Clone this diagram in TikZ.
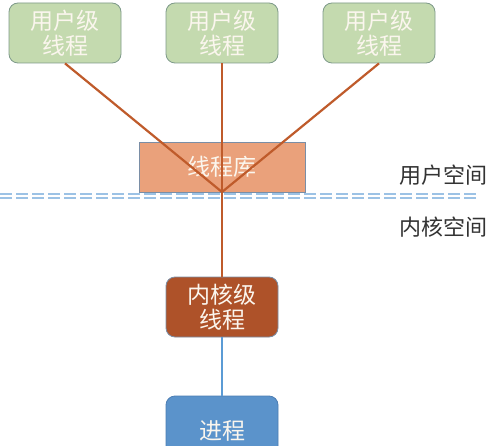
\documentclass[tikz,border=0pt]{standalone}
\usepackage{fontspec}
\newfontfamily\cjk{Noto Sans CJK SC}
\definecolor{gfill}{HTML}{C4DAAF}
\definecolor{gdraw}{HTML}{7E9A8A}
\definecolor{lfill}{HTML}{EAA17B}
\definecolor{bdraw}{HTML}{7A8EA6}
\definecolor{kfill}{HTML}{AE5229}
\definecolor{pfill}{HTML}{5B93CB}
\definecolor{pdraw}{HTML}{4C7DB3}
\definecolor{brline}{HTML}{BF5B2B}
\definecolor{blline}{HTML}{5B9BD5}
\definecolor{dashc}{HTML}{9CC2E5}
\definecolor{txt}{HTML}{FBF6EE}
\tikzset{
  x=1pt, y=-1pt,
  boxbase/.style={rectangle, minimum width=112pt, inner sep=0pt, text=txt,
    font=\cjk\fontsize{23}{25}\selectfont, align=center, line width=0.8pt},
  userbox/.style={boxbase, rounded corners=9pt, minimum height=60pt, fill=gfill, draw=gdraw},
  libbox/.style={boxbase, minimum width=166pt, minimum height=50pt, fill=lfill, draw=bdraw},
  kernbox/.style={boxbase, rounded corners=9pt, minimum height=60pt, fill=kfill, draw=bdraw},
  procbox/.style={boxbase, rounded corners=9pt, minimum height=70pt, fill=pfill, draw=pdraw},
  conn/.style={draw=brline, line width=2.2pt},
  bconn/.style={draw=blline, line width=2.2pt},
  sep/.style={draw=dashc, line width=2pt, dash pattern=on 12pt off 4pt},
  side/.style={font=\cjk\fontsize{22}{24}\selectfont, text=black!80, inner sep=0pt}
}
\begin{document}
\begin{tikzpicture}
\useasboundingbox (0,0) rectangle (497,446);
\clip (0,0) rectangle (497,446);
\fill[white] (0,0) rectangle (497,446);
\node[userbox] (u1) at (65,33) {用户级\\线程};
\node[userbox] (u2) at (222,33) {用户级\\线程};
\node[userbox] (u3) at (379,33) {用户级\\线程};
\node[libbox] (lib) at (222,167) {线程库};
\coordinate (conv) at (222,192);
\coordinate (sl) at (0,194.5);
\coordinate (sr) at (476,194.5);
\coordinate (sl2) at (0,198.5);
\coordinate (sr2) at (476,198.5);
\draw[sep] (sl) -- (sr);
\draw[sep] (sl2) -- (sr2);
\node[kernbox] (k) at (222,307) {内核级\\线程};
\node[procbox] (p) at (222,431) {进程};
\draw[conn] (u1.south) -- (conv);
\draw[conn] (u2.south) -- (conv);
\draw[conn] (u3.south) -- (conv);
\draw[conn] (conv) -- (k.north);
\draw[bconn] (k.south) -- (p.north);
\node[side] (us) at (443,175) {用户空间};
\node[side] (ks) at (443,227) {内核空间};
\end{tikzpicture}
\end{document}
